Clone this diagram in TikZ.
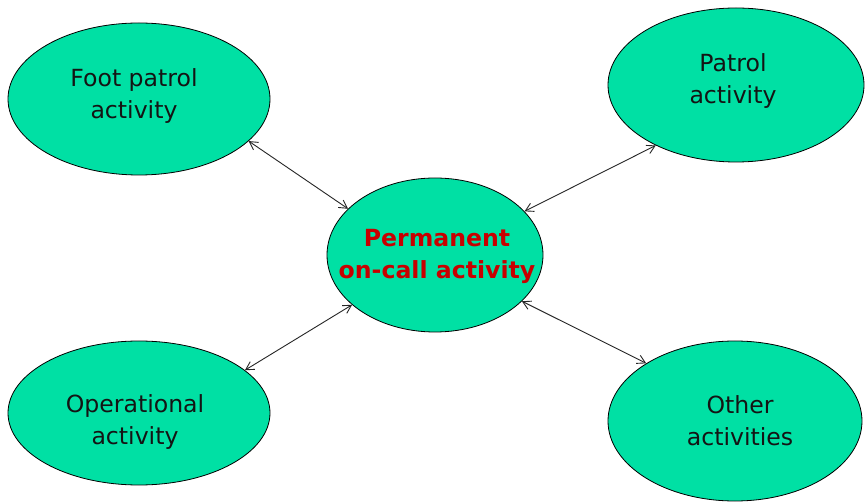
\documentclass[tikz,border=0pt]{standalone}
\usepackage{fontspec}
\setmainfont{DejaVu Sans}
\usetikzlibrary{shapes.geometric,arrows.meta}
\definecolor{mint}{RGB}{0,224,164}
\definecolor{centrered}{RGB}{200,0,0}
\definecolor{inktext}{RGB}{20,20,20}
\begin{document}
\begin{tikzpicture}[x=1pt,y=-1pt,
  act/.style={ellipse,draw=black,line width=0.8pt,fill=mint,inner sep=0pt},
  txt/.style={align=center,text=inktext,inner sep=0pt,font=\fontsize{23.6}{32}\selectfont},
  ctxt/.style={txt,text=centrered,font=\fontsize{23.6}{32}\bfseries\selectfont},
  link/.style={{Straight Barb[length=8pt,width=9pt]}-{Straight Barb[length=8pt,width=9pt]},
    line width=0.9pt,draw=black!85}]
\useasboundingbox (0,0) rectangle (865,502);
\fill[white] (0,0) rectangle (865,502);
\node[act,minimum width=262pt,minimum height=152pt] (fp) at (139,99) {};
\node[act,minimum width=256pt,minimum height=154pt] (pa) at (736,85) {};
\node[act,minimum width=216pt,minimum height=154pt] (c) at (435,255) {};
\node[act,minimum width=262pt,minimum height=144pt] (op) at (139,413) {};
\node[act,minimum width=254pt,minimum height=160pt] (ot) at (735,421) {};
\node[txt] (fpl) at (134,96) {Foot patrol\\activity};
\node[txt] (pal) at (733,81) {Patrol\\activity};
\node[ctxt] (cl) at (437,256) {Permanent\\on-call activity};
\node[txt] (opl) at (135,422) {Operational\\activity};
\node[txt] (otl) at (740,421) {Other\\activities};
\draw[link] (fp.-21.5) -- (c.152.9);
\draw[link] (pa.-143.8) -- (c.26.6);
\draw[link] (op.22.3) -- (c.211.6);
\draw[link] (ot.147.2) -- (c.-28.1);
\end{tikzpicture}
\end{document}
